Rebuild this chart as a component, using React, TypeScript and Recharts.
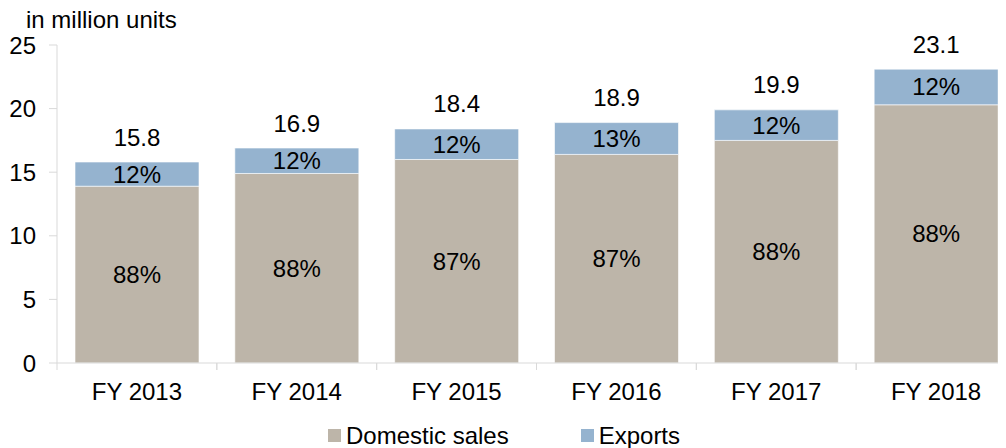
import { BarChart, Bar, XAxis, YAxis, LabelList, Legend } from 'recharts';

const years = ['FY 2013', 'FY 2014', 'FY 2015', 'FY 2016', 'FY 2017', 'FY 2018'];
const domestic = [13.9, 14.9, 16.0, 16.4, 17.5, 20.3];
const exportsUnits = [1.9, 2.0, 2.4, 2.5, 2.4, 2.8];
const totals = [15.8, 16.9, 18.4, 18.9, 19.9, 23.1];
const domesticShare = [88, 88, 87, 87, 88, 88];
const exportsShare = [12, 12, 12, 13, 12, 12];
const yTicks = [0, 5, 10, 15, 20, 25];

const DOMESTIC = '#bdb5a9';
const EXPORTS = '#95b3cf';
const AXIS = '#d9d9d9';
const FONT = '"Liberation Sans", Arial, sans-serif';
const FS = 24;
const TICK_MARGIN = 20;

const data = years.map((year, i) => ({
  year,
  domestic: domestic[i],
  exports: exportsUnits[i],
  total: totals[i],
  domPct: domesticShare[i],
  expPct: exportsShare[i],
}));

const pct = (v: any) => `${v}%`;

// category label plus a tick mark on the left edge of its band
function CategoryTick(props: any) {
  const { x, y, width, payload } = props;
  const band = width / years.length;
  const axisY = y - TICK_MARGIN;
  return (
    <g>
      <line x1={x - band / 2} x2={x - band / 2} y1={axisY} y2={axisY + 7} stroke={AXIS} />
      <line x1={x + band / 2} x2={x + band / 2} y1={axisY} y2={axisY + 7} stroke={AXIS} />
      <text x={x} y={y} dy="0.71em" textAnchor="middle" fill="#000" fontSize={FS} fontFamily={FONT}>
        {payload.value}
      </text>
    </g>
  );
}

function TotalLabel(props: any) {
  const { x, y, width, value } = props;
  return (
    <text x={x + width / 2} y={y - 25} textAnchor="middle" dominantBaseline="central" fontSize={FS} fill="#000" fontFamily={FONT}>
      {value}
    </text>
  );
}

function LegendContent() {
  const items = [
    { name: 'Domestic sales', color: DOMESTIC },
    { name: 'Exports', color: EXPORTS },
  ];
  return (
    <div style={{ display: 'flex', justifyContent: 'center', gap: 72, paddingRight: 16, fontFamily: FONT, fontSize: FS, height: 25, lineHeight: '25px' }}>
      {items.map((it) => (
        <div key={it.name} style={{ display: 'flex', alignItems: 'center', gap: 5 }}>
          <span style={{ width: 13, height: 13, background: it.color, display: 'inline-block' }} />
          <span>{it.name}</span>
        </div>
      ))}
    </div>
  );
}

export default function App() {
  return (
    <div style={{ position: 'relative', width: 998, height: 440, fontFamily: FONT }}>
      <div style={{ position: 'absolute', left: 18, top: 0, fontSize: FS, lineHeight: '23px', color: '#000' }}>in million units</div>
      <BarChart width={998} height={440} data={data} margin={{ top: 37, right: -10, left: 0, bottom: 0 }} barCategoryGap={18}>
        <XAxis
          dataKey="year"
          tickLine={false}
          axisLine={{ stroke: AXIS }}
          tickSize={0}
          tickMargin={TICK_MARGIN}
          height={60}
          interval={0}
          tick={<CategoryTick />}
        />
        <YAxis
          domain={[0, 25]}
          ticks={yTicks}
          width={49}
          tickSize={8}
          tickMargin={13}
          tickLine={{ stroke: AXIS }}
          axisLine={{ stroke: AXIS }}
          tick={{ fill: '#000', fontSize: FS, fontFamily: FONT }}
        />
        <Legend verticalAlign="bottom" content={<LegendContent />} />
        <Bar dataKey="domestic" stackId="a" fill={DOMESTIC} stroke="#ffffff" strokeOpacity={0.6} strokeWidth={1} isAnimationActive={false}>
          <LabelList dataKey="domPct" position="center" formatter={pct} fill="#000" fontSize={FS} fontFamily={FONT} />
        </Bar>
        <Bar dataKey="exports" stackId="a" fill={EXPORTS} stroke="#ffffff" strokeOpacity={0.6} strokeWidth={1} isAnimationActive={false}>
          <LabelList dataKey="expPct" position="center" formatter={pct} fill="#000" fontSize={FS} fontFamily={FONT} />
          <LabelList dataKey="total" content={<TotalLabel />} />
        </Bar>
      </BarChart>
    </div>
  );
}
